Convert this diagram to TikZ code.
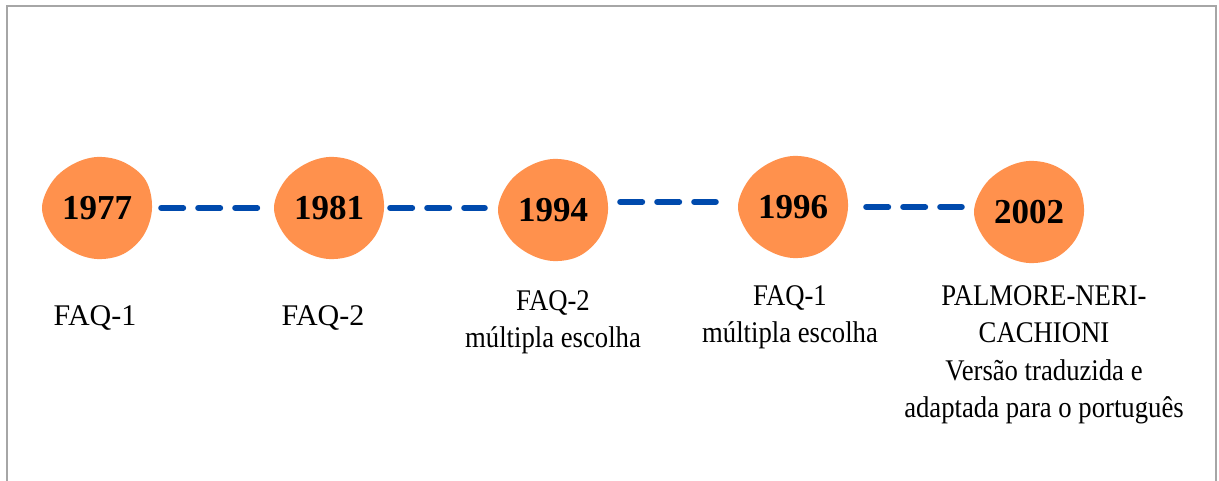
\documentclass[tikz,border=0pt]{standalone}
\usepackage{fontspec}
\setmainfont{Liberation Serif}
\newfontfamily\narrowserif{Liberation Serif}[FakeStretch=0.89]
\usepackage{tikz}
\usetikzlibrary{positioning}
\definecolor{blobfill}{HTML}{FF914D}
\definecolor{linkblue}{HTML}{004AAD}
\definecolor{framegray}{HTML}{A6A6A6}
\tikzstyle{year} = [circle, inner sep=0pt, minimum size=110pt, font=\fontsize{35}{40}\selectfont\bfseries]
\tikzstyle{event} = [inner sep=0pt, align=center, font=\fontsize{30}{37.5}\selectfont]
\tikzstyle{eventnarrow} = [event, font=\narrowserif\fontsize{30}{37.5}\selectfont]
\tikzstyle{link} = [line width=6pt, linkblue, line cap=round, dash pattern=on 22pt off 15pt]
\newcommand{\blob}[1]{\fill[blobfill, shift={#1}] plot[smooth cycle, tension=0.6] coordinates {(0:55) (30:56) (60:53) (90:51) (120:50) (150:52) (180:55) (210:52) (240:50) (270:51) (300:53) (330:54)};}

\begin{document}
\begin{tikzpicture}[x=1pt, y=1pt]

  \useasboundingbox (0,0) rectangle (1219,-481);
  \draw [framegray, line width=1.5pt] (7,-481) -- (7,-6) -- (1216,-6) -- (1216,-481);

  \blob{(97,-208)}
  \blob{(329,-208)}
  \blob{(553,-210)}
  \blob{(793,-207)}
  \blob{(1029,-212)}

  \node (y1977) [year] at (97,-208) {1977};
  \node (y1981) [year] at (329,-208) {1981};
  \node (y1994) [year] at (553,-210) {1994};
  \node (y1996) [year] at (793,-207) {1996};
  \node (y2002) [year] at (1029,-212) {2002};

  \draw [link, shorten <=9pt, shorten >=13pt] (y1977.east) -- (y1981.west);
  \draw [link, shorten <=6pt, shorten >=13pt] (y1981.east) -- (y1994.west |- y1981.east);
  \draw [link, shorten <=12pt, shorten >=22pt] ([yshift=8pt]y1994.east) -- ([yshift=8pt]y1994.east -| y1996.west);
  \draw [link, shorten <=18pt, shorten >=12pt] (y1996.east) -- (y2002.west |- y1996.east);

  \node (faq1) [event, below=42pt of y1977, xshift=-2pt] {FAQ-1};
  \node (faq2) [event, below=42pt of y1981, xshift=-6pt] {FAQ-2};
  \node (faq2m) [eventnarrow, below=25pt of y1994] {FAQ-2\\múltipla escolha};
  \node (faq1m) [eventnarrow, below=23pt of y1996, xshift=-3pt] {FAQ-1\\múltipla escolha};
  \node (palmore) [eventnarrow, below=18pt of y2002, xshift=15pt] {PALMORE-NERI-\\CACHIONI\\Versão traduzida e\\adaptada para o português};

\end{tikzpicture}
\end{document}
